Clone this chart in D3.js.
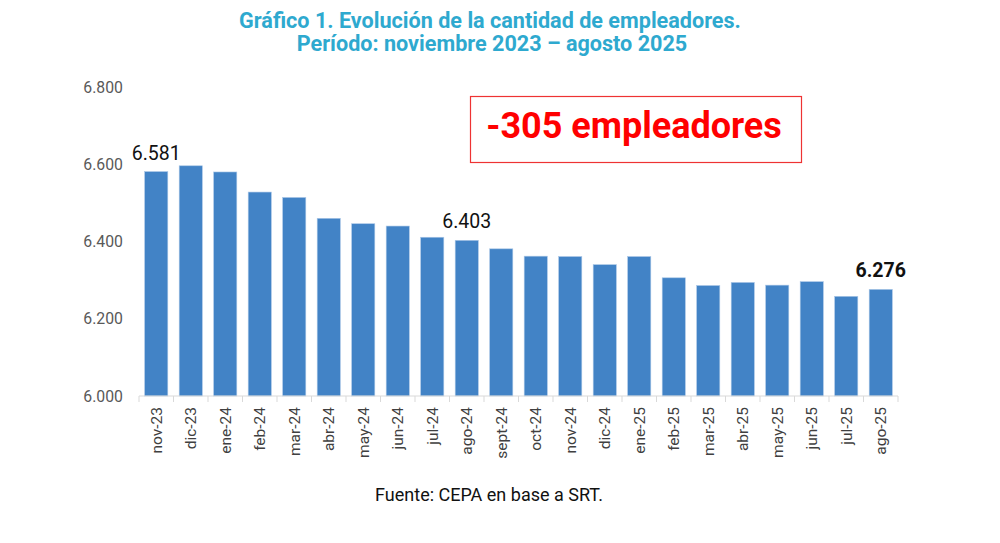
<!DOCTYPE html>
<html>
<head>
<meta charset="utf-8">
<script src="https://cdn.jsdelivr.net/npm/d3@7"></script>
<style>
  body { margin: 0; background: #fff; font-family: Roboto, 'Noto Sans', sans-serif; }
</style>
</head>
<body>
<div id="chart-area"></div>
<script>
// Data
let months = ['nov-23', 'dic-23', 'ene-24', 'feb-24', 'mar-24', 'abr-24', 'may-24', 'jun-24',
  'jul-24', 'ago-24', 'sept-24', 'oct-24', 'nov-24', 'dic-24', 'ene-25', 'feb-25', 'mar-25',
  'abr-25', 'may-25', 'jun-25', 'jul-25', 'ago-25'];
let employers = [6581, 6596, 6580, 6528, 6514, 6460, 6446, 6440, 6411, 6403, 6381, 6362,
  6361, 6340, 6361, 6306, 6286, 6294, 6287, 6296, 6258, 6276];
let yTicks = [6000, 6200, 6400, 6600, 6800];
let labelled = ['nov-23', 'ago-24', 'ago-25'];
let boldLabel = 'ago-25';

// SVG drawing area
let margin = { top: 87, right: 102, bottom: 147, left: 139 };
let width = 1000 - margin.left - margin.right,
  height = 543 - margin.top - margin.bottom;

let root = d3.select('#chart-area')
  .append('svg')
  .attr('width', 1000)
  .attr('height', 543);

let svg = root.append('g')
  .attr('transform', 'translate(' + margin.left + ',' + margin.top + ')');

// Title
let title = root.append('text')
  .attr('text-anchor', 'middle')
  .attr('fill', '#2ea9cf')
  .attr('font-weight', 'bold')
  .attr('font-size', 21.6);
title.append('tspan').attr('x', 490).attr('y', 27.5).text('Gráfico 1. Evolución de la cantidad de empleadores.');
title.append('tspan').attr('x', 492).attr('y', 50.5).text('Período: noviembre 2023 – agosto 2025');

// Scales
let x = d3.scaleBand().domain(months).range([0, width]).paddingInner(0.33).paddingOuter(0.165);
let y = d3.scaleLinear().domain([6000, 6800]).range([height, 0]);

// Bars
svg.selectAll('.bar')
  .data(months)
  .enter()
  .append('rect')
  .attr('class', 'bar')
  .attr('x', d => x(d))
  .attr('width', x.bandwidth())
  .attr('y', (d, i) => y(employers[i]))
  .attr('height', (d, i) => height - y(employers[i]))
  .attr('fill', '#4283c6')
  .attr('stroke', '#a9c6e6')
  .attr('stroke-width', 0.6);

// Y axis (labels only)
let yAxis = svg.append('g')
  .call(d3.axisLeft(y).tickValues(yTicks).tickSize(0).tickPadding(16)
    .tickFormat(d => d3.format(',.3f')(d / 1000).replace(',', '.')));
yAxis.select('.domain').remove();
yAxis.selectAll('text')
  .attr('fill', '#595959')
  .attr('font-size', 15.8)
  .attr('font-family', 'Roboto, sans-serif');

// X axis with separators between categories
let xg = svg.append('g')
  .attr('transform', `translate(0, ${height})`);
xg.append('line')
  .attr('x1', 0).attr('x2', width)
  .attr('stroke', '#d9d9d9');
let step = x.step();
xg.selectAll('.sep')
  .data(d3.range(months.length + 1))
  .enter()
  .append('line')
  .attr('class', 'sep')
  .attr('x1', i => i * step).attr('x2', i => i * step)
  .attr('y1', 0).attr('y2', 6)
  .attr('stroke', '#d9d9d9');
xg.selectAll('.xlab')
  .data(months)
  .enter()
  .append('text')
  .attr('class', 'xlab')
  .attr('transform', d => `translate(${x(d) + x.bandwidth() / 2 + 5.5}, 11) rotate(-90)`)
  .attr('text-anchor', 'end')
  .attr('fill', '#404040')
  .attr('font-size', 15.5)
  .text(d => d);

// Value labels
svg.selectAll('.val')
  .data(months.filter(d => labelled.includes(d)))
  .enter()
  .append('text')
  .attr('class', 'val')
  .attr('x', d => x(d) + x.bandwidth() / 2)
  .attr('y', d => y(employers[months.indexOf(d)]) - 12)
  .attr('text-anchor', 'middle')
  .attr('font-size', 19.5)
  .attr('font-weight', d => d === boldLabel ? 'bold' : 'normal')
  .attr('fill', '#111')
  .text(d => d3.format(',')(employers[months.indexOf(d)]).replace(',', '.'));

// Annotation box
root.append('rect')
  .attr('x', 470.5).attr('y', 96.5)
  .attr('width', 331).attr('height', 66)
  .attr('fill', 'none')
  .attr('stroke', '#ee3333')
  .attr('stroke-width', 1.2);
root.append('text')
  .attr('x', 634)
  .attr('y', 138)
  .attr('text-anchor', 'middle')
  .attr('fill', '#ff0000')
  .attr('font-weight', 'bold')
  .attr('font-size', 36)
  .text('-305 empleadores');

// Source
root.append('text')
  .attr('x', 489)
  .attr('y', 501)
  .attr('text-anchor', 'middle')
  .attr('fill', '#111')
  .attr('font-size', 18)
  .text('Fuente: CEPA en base a SRT.');
</script>
</body>
</html>
